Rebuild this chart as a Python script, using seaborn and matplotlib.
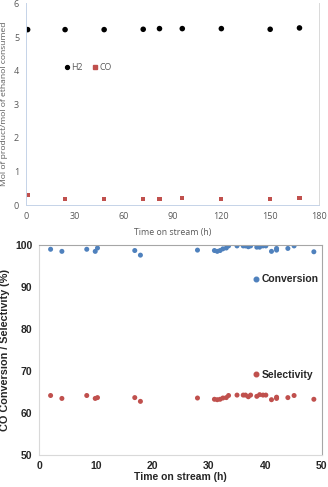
import matplotlib
matplotlib.use("Agg")
import matplotlib.pyplot as plt
import seaborn as sns
import pandas as pd
from matplotlib.lines import Line2D

# ---- top panel data ----
tos_top = [1, 24, 48, 72, 82, 96, 120, 150, 168]
h2 = [5.22, 5.22, 5.22, 5.23, 5.25, 5.25, 5.25, 5.23, 5.27]
co = [0.30, 0.17, 0.17, 0.19, 0.19, 0.20, 0.19, 0.19, 0.20]
top_xticks = [0, 30, 60, 90, 120, 150, 180]
top_yticks = [0, 1, 2, 3, 4, 5, 6]

# ---- bottom panel data ----
tos_bot = [2, 4, 8.4, 9.9, 10.3, 16.9, 17.9, 28, 31, 31.5, 32, 32.5, 33.1, 33.5,
           35, 36.1, 36.5, 37, 37.4, 38.5, 39, 39.6, 40.1, 41.1, 42, 42, 44, 45.1, 48.6]
conversion = [99.1, 98.6, 99.1, 98.6, 99.4, 98.8, 97.7, 98.9, 98.8, 98.6, 98.8, 99.2, 99.4, 99.9,
              99.9, 99.9, 99.9, 99.7, 99.9, 99.6, 99.6, 99.9, 99.9, 98.6, 98.9, 99.3, 99.3, 99.9, 98.5]
selectivity = [64.2, 63.5, 64.2, 63.5, 63.7, 63.7, 62.8, 63.6, 63.3, 63.2, 63.3, 63.6, 63.7, 64.2,
               64.3, 64.3, 64.3, 63.9, 64.3, 64.0, 64.4, 64.3, 64.3, 63.2, 63.8, 63.5, 63.7, 64.2, 63.3]
bot_xticks = [0, 10, 20, 30, 40, 50]
bot_yticks = [50, 60, 70, 80, 90, 100]

sns.set_theme(style="white")
plt.rcParams['font.family'] = ['Liberation Sans', 'DejaVu Sans']

fig = plt.figure(figsize=(3.28, 4.87), dpi=100)
ax1 = fig.add_axes([0.0793, 0.579, 0.8933, 0.414])
ax2 = fig.add_axes([0.1198, 0.0657, 0.8612, 0.4302])

GRAY = '#595959'
RED = '#C0504D'
BLUE = '#4F81BD'
TOPFONT = ['Open Sans', 'DejaVu Sans']

df_top = pd.DataFrame({'t': tos_top, 'H2': h2, 'CO': co})
sns.scatterplot(data=df_top, x='t', y='H2', ax=ax1, color='black', s=16,
                edgecolor='none', marker='o', legend=False)
sns.scatterplot(data=df_top, x='t', y='CO', ax=ax1, color=RED, s=9,
                edgecolor='none', marker='s', legend=False)
ax1.set_xlim(0, 180)
ax1.set_ylim(0, 6)
ax1.set_xticks(top_xticks)
ax1.set_yticks(top_yticks)
ax1.set_xlabel('Time on stream (h)', fontsize=6.3, color=GRAY, family=TOPFONT, labelpad=5)
ax1.set_ylabel('Mol of product/mol of ethanol consumed', fontsize=6.1, color=GRAY,
               family=TOPFONT, labelpad=4)
for lab in ax1.get_xticklabels() + ax1.get_yticklabels():
    lab.set_fontsize(6.5)
    lab.set_color(GRAY)
    lab.set_family(TOPFONT)
ax1.tick_params(axis='both', length=3, width=0.6, color='#c5d3e8', pad=2)
ax1.spines['top'].set_visible(False)
ax1.spines['left'].set_color('#c5d3e8')
ax1.spines['bottom'].set_color('#c5d3e8')
ax1.spines['right'].set_color('#d9d9d9')
for s in ax1.spines.values():
    s.set_linewidth(0.7)
h_top = [Line2D([], [], marker='o', color='black', linestyle='none', markersize=2.8),
         Line2D([], [], marker='s', color=RED, linestyle='none', markersize=2.2)]
leg1 = ax1.legend(h_top, ['H2', 'CO'], ncol=2, frameon=False, loc='center left',
                  bbox_to_anchor=(0.11, 0.68), fontsize=6.3, handletextpad=0.05,
                  columnspacing=1.0, handlelength=0.9, borderpad=0)
for t in leg1.get_texts():
    t.set_color(GRAY)
    t.set_family(TOPFONT)

df_bot = pd.DataFrame({'t': tos_bot, 'conv': conversion, 'sel': selectivity})
sns.scatterplot(data=df_bot, x='t', y='conv', ax=ax2, color=BLUE, s=13,
                edgecolor='none', legend=False)
sns.scatterplot(data=df_bot, x='t', y='sel', ax=ax2, color=RED, s=13,
                edgecolor='none', legend=False)
ax2.set_xlim(0, 50)
ax2.set_ylim(50, 100)
ax2.set_xticks(bot_xticks)
ax2.set_yticks(bot_yticks)
ax2.set_xlabel('Time on stream (h)', fontsize=7.5, fontweight='bold', labelpad=1)
ax2.set_ylabel('CO Conversion / Selectivity (%)', fontsize=7.8, fontweight='bold', labelpad=4)
for lab in ax2.get_xticklabels() + ax2.get_yticklabels():
    lab.set_fontsize(7.5)
    lab.set_fontweight('bold')
ax2.tick_params(axis='x', direction='in', length=3, width=0.6, color='#d0d0d0', pad=4)
ax2.tick_params(axis='y', length=0, pad=5)
ax2.spines['left'].set_color('#d9d9d9')
ax2.spines['bottom'].set_color('#d9d9d9')
ax2.spines['top'].set_color('#a6a6a6')
ax2.spines['right'].set_color('#a6a6a6')
for s in ax2.spines.values():
    s.set_linewidth(0.8)

h_c = [Line2D([], [], marker='o', color=BLUE, linestyle='none', markersize=3.3)]
leg2 = ax2.legend(h_c, ['Conversion'], frameon=False, loc='center left',
                  bbox_to_anchor=(0.73, 0.838), prop={'size': 7.5, 'weight': 'bold'},
                  handletextpad=0.05, handlelength=1.0, borderpad=0)
ax2.add_artist(leg2)
h_s = [Line2D([], [], marker='o', color=RED, linestyle='none', markersize=3.3)]
ax2.legend(h_s, ['Selectivity'], frameon=False, loc='center left',
           bbox_to_anchor=(0.73, 0.383), prop={'size': 7.5, 'weight': 'bold'},
           handletextpad=0.05, handlelength=1.0, borderpad=0)

fig.savefig('out.png', dpi=100)
